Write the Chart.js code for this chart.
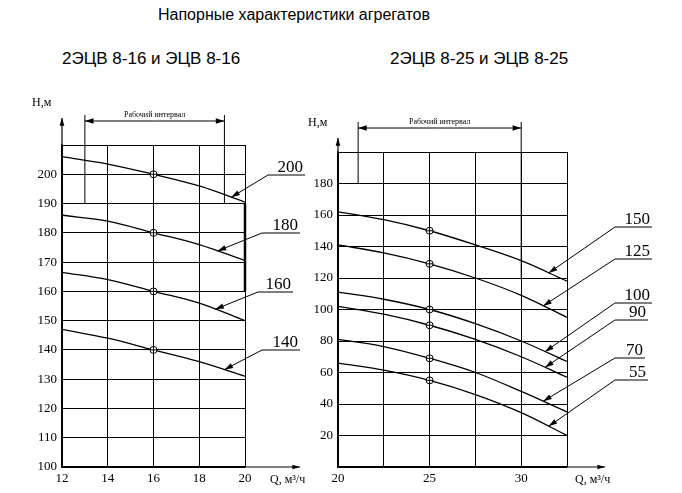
<!DOCTYPE html>
<html>
<head>
<meta charset="utf-8">
<script src="https://cdn.jsdelivr.net/npm/chart.js@4"></script>
<style>
  body { margin: 0; background: #fff; width: 682px; height: 493px; position: relative; overflow: hidden; }
  .t { position: absolute; font-family: "Liberation Sans", Arial, sans-serif; color: #000; white-space: nowrap; }
  canvas { position: absolute; top: 0; }
</style>
</head>
<body>
<div class="t" style="left:158px;top:6px;font-size:16px;">Напорные характеристики агрегатов</div>
<div class="t" style="left:62px;top:49px;font-size:17px;">2ЭЦВ 8-16 и ЭЦВ 8-16</div>
<div class="t" style="left:390px;top:49px;font-size:17px;">2ЭЦВ 8-25 и ЭЦВ 8-25</div>
<div style="position:absolute;left:0;top:0;width:341px;height:493px;"><canvas id="left"></canvas></div>
<div style="position:absolute;left:300px;top:0;width:382px;height:493px;"><canvas id="right"></canvas></div>
<script>
// Левый график: 2ЭЦВ 8-16
const leftQ = [12, 14, 16, 18, 20];
const leftH200 = [206, 203.5, 200, 196, 190.5];
const leftH180 = [186, 184, 180, 176, 170.5];
const leftH160 = [166.5, 164, 160, 156, 150];
const leftH140 = [147, 144, 140, 136, 131];
const leftNames = ["200", "180", "160", "140"];

// Правый график: 2ЭЦВ 8-25
const rightQ = [20, 22.5, 25, 27.5, 30, 32.5];
const rightH150 = [162, 157, 150, 141, 131, 118];
const rightH125 = [141, 136, 129, 120, 109, 95];
const rightH100 = [111, 106.5, 100, 91, 80, 67];
const rightH90 = [102, 97, 90, 81, 70, 57];
const rightH70 = [81, 76.5, 69, 60, 48, 35];
const rightH55 = [66, 61.5, 55, 46, 34.5, 20];
const rightNames = ["150", "125", "100", "90", "70", "55"];

const serif = "Liberation Serif, Times New Roman, serif";

function toPoints(xs, ys) {
  return xs.map((x, i) => ({ x: x, y: ys[i] }));
}

function arrow(ctx, x1, y1, x2, y2, size) {
  const a = Math.atan2(y2 - y1, x2 - x1);
  ctx.beginPath();
  ctx.moveTo(x1, y1);
  ctx.lineTo(x2, y2);
  ctx.stroke();
  ctx.beginPath();
  ctx.moveTo(x2, y2);
  ctx.lineTo(x2 - size * Math.cos(a - 0.3), y2 - size * Math.sin(a - 0.3));
  ctx.lineTo(x2 - size * Math.cos(a + 0.3), y2 - size * Math.sin(a + 0.3));
  ctx.closePath();
  ctx.fill();
}

function curveY(xs, ys, q) {
  for (let i = 0; i < xs.length - 1; i++) {
    if (q >= xs[i] && q <= xs[i + 1]) {
      const t = (q - xs[i]) / (xs[i + 1] - xs[i]);
      return ys[i] + t * (ys[i + 1] - ys[i]);
    }
  }
  return ys[ys.length - 1];
}

// Плагин: оси со стрелками, рабочий интервал, выноски и кружки.
function makeDecor(cfg) {
  return {
    id: "decor",
    afterDraw(chart) {
      const ctx = chart.ctx;
      const xs = chart.scales.x, ys = chart.scales.y;
      const area = chart.chartArea;
      ctx.save();
      ctx.strokeStyle = "#000";
      ctx.fillStyle = "#000";
      ctx.lineWidth = 1.2;
      arrow(ctx, area.left, area.bottom, area.left, cfg.axisTop, 8);
      arrow(ctx, area.left, area.bottom, cfg.axisRight, area.bottom, 8);
      ctx.font = "12px " + serif;
      ctx.fillText("H,м", area.left - 30, cfg.axisTop - 12);
      ctx.fillText("Q, м³/ч", cfg.axisRight - 30, area.bottom + 16);
      // рабочий интервал
      const bx1 = xs.getPixelForValue(cfg.work[0]), bx2 = xs.getPixelForValue(cfg.work[1]);
      ctx.lineWidth = 1;
      ctx.beginPath();
      ctx.moveTo(bx1, ys.getPixelForValue(cfg.workLow[0]));
      ctx.lineTo(bx1, cfg.bracketY - 6);
      ctx.moveTo(bx2, ys.getPixelForValue(cfg.workLow[1]));
      ctx.lineTo(bx2, cfg.bracketY - 6);
      ctx.stroke();
      arrow(ctx, (bx1 + bx2) / 2, cfg.bracketY, bx1, cfg.bracketY, 9);
      arrow(ctx, (bx1 + bx2) / 2, cfg.bracketY, bx2, cfg.bracketY, 9);
      ctx.font = "8px " + serif;
      ctx.textAlign = "center";
      ctx.fillText("Рабочий интервал", (bx1 + bx2) / 2, cfg.bracketY - 4);
      // выноски
      ctx.font = "17px " + serif;
      ctx.textAlign = "right";
      chart.data.datasets.forEach((ds, i) => {
        const L = cfg.labels[i];
        const tx = xs.getPixelForValue(L.q);
        const ty = ys.getPixelForValue(curveY(cfg.q, cfg.h[i], L.q));
        ctx.lineWidth = 1;
        ctx.beginPath();
        ctx.moveTo(L.x0, L.y);
        ctx.lineTo(L.x1, L.y);
        ctx.stroke();
        arrow(ctx, L.x0, L.y, tx, ty, 9);
        ctx.fillText(ds.label, L.x1 - 2, L.y - 3);
        // кружок с крестом
        const cx = xs.getPixelForValue(cfg.mark);
        const cy = ys.getPixelForValue(curveY(cfg.q, cfg.h[i], cfg.mark));
        ctx.beginPath();
        ctx.arc(cx, cy, 3.5, 0, Math.PI * 2);
        ctx.fillStyle = "#fff";
        ctx.fill();
        ctx.stroke();
        ctx.beginPath();
        ctx.moveTo(cx - 3.5, cy); ctx.lineTo(cx + 3.5, cy);
        ctx.moveTo(cx, cy - 3.5); ctx.lineTo(cx, cy + 3.5);
        ctx.stroke();
        ctx.fillStyle = "#000";
      });
      if (cfg.extra) cfg.extra(chart, ctx);
      ctx.restore();
    },
  };
}

function buildChart(id, q, hs, names, opts, decorCfg) {
  const ctx = document.getElementById(id).getContext("2d");
  new Chart(ctx, {
    type: "line",
    data: {
      datasets: hs.map((h, i) => ({
        label: names[i],
        data: toPoints(q, h),
        borderColor: "#000",
        borderWidth: 1.3,
        pointRadius: 0,
        tension: 0.35,
      })),
    },
    options: {
      responsive: true,
      maintainAspectRatio: false,
      animation: false,
      layout: { padding: opts.padding },
      plugins: { legend: { display: false }, tooltip: { enabled: false } },
      scales: {
        x: {
          type: "linear",
          min: opts.xMin, max: opts.xMax,
          afterFit: s => { s.height = opts.xHeight; },
          afterBuildTicks: s => { s.ticks = opts.xGrid.map(v => ({ value: v })); },
          grid: { color: "#000", lineWidth: 1, drawTicks: false },
          border: { color: "#000", width: 1.2 },
          ticks: {
            color: "#000", font: { family: serif, size: 13 }, padding: 4, maxRotation: 0,
            callback: v => (opts.xLabels.includes(v) ? String(v) : ""),
          },
        },
        y: {
          min: opts.yMin, max: opts.yMax,
          afterFit: s => { s.width = opts.yWidth; },
          afterBuildTicks: s => { s.ticks = opts.yGrid.map(v => ({ value: v })); },
          grid: { color: "#000", lineWidth: 1, drawTicks: false },
          border: { color: "#000", width: 1.2 },
          ticks: {
            color: "#000", font: { family: serif, size: 13 }, padding: 5,
            callback: v => (opts.yLabels.includes(v) ? String(v) : ""),
          },
        },
      },
    },
    plugins: [makeDecor(decorCfg)],
  });
}

buildChart("left", leftQ, [leftH200, leftH180, leftH160, leftH140], leftNames, {
  padding: { left: 0, top: 145, right: 96, bottom: 0 },
  xMin: 12, xMax: 20, xHeight: 26, yWidth: 62,
  yMin: 100, yMax: 210,
  xGrid: [12, 14, 16, 18, 20], xLabels: [12, 14, 16, 18, 20],
  yGrid: [100, 110, 120, 130, 140, 150, 160, 170, 180, 190, 200, 210],
  yLabels: [100, 110, 120, 130, 140, 150, 160, 170, 180, 190, 200],
}, {
  axisTop: 118, axisRight: 300, bracketY: 121,
  work: [13, 19.1], workLow: [190, 190], mark: 16,
  q: leftQ, h: [leftH200, leftH180, leftH160, leftH140],
  labels: [
    { q: 19.4, x0: 268, x1: 305, y: 175 },
    { q: 18.8, x0: 262, x1: 300, y: 233 },
    { q: 18.7, x0: 258, x1: 293, y: 292 },
    { q: 19.1, x0: 262, x1: 300, y: 350 },
  ],
  extra: (chart, ctx) => {
    const xs = chart.scales.x, ys = chart.scales.y;
    ctx.lineWidth = 2.5;
    ctx.beginPath();
    ctx.moveTo(xs.getPixelForValue(20), ys.getPixelForValue(190));
    ctx.lineTo(xs.getPixelForValue(20), ys.getPixelForValue(160));
    ctx.stroke();
  },
});

const rightH = [rightH150, rightH125, rightH100, rightH90, rightH70, rightH55];
buildChart("right", rightQ, rightH, rightNames, {
  padding: { left: 0, top: 152, right: 115, bottom: 0 },
  xMin: 20, xMax: 32.5, xHeight: 26, yWidth: 38,
  yMin: 0, yMax: 200,
  xGrid: [20, 22.5, 25, 27.5, 30, 32.5], xLabels: [20, 25, 30],
  yGrid: [0, 20, 40, 60, 80, 100, 120, 140, 160, 180, 200],
  yLabels: [20, 40, 60, 80, 100, 120, 140, 160, 180],
}, {
  axisTop: 138, axisRight: 305, bracketY: 128,
  work: [21.1, 30], workLow: [180, 120], mark: 25,
  q: rightQ, h: rightH,
  labels: [
    { q: 31.5, x0: 315, x1: 352, y: 227 },
    { q: 31.2, x0: 315, x1: 352, y: 259 },
    { q: 31.3, x0: 315, x1: 352, y: 303 },
    { q: 31.3, x0: 315, x1: 348, y: 320 },
    { q: 31.2, x0: 315, x1: 345, y: 358 },
    { q: 31.5, x0: 315, x1: 348, y: 380 },
  ],
});
</script>
</body>
</html>
